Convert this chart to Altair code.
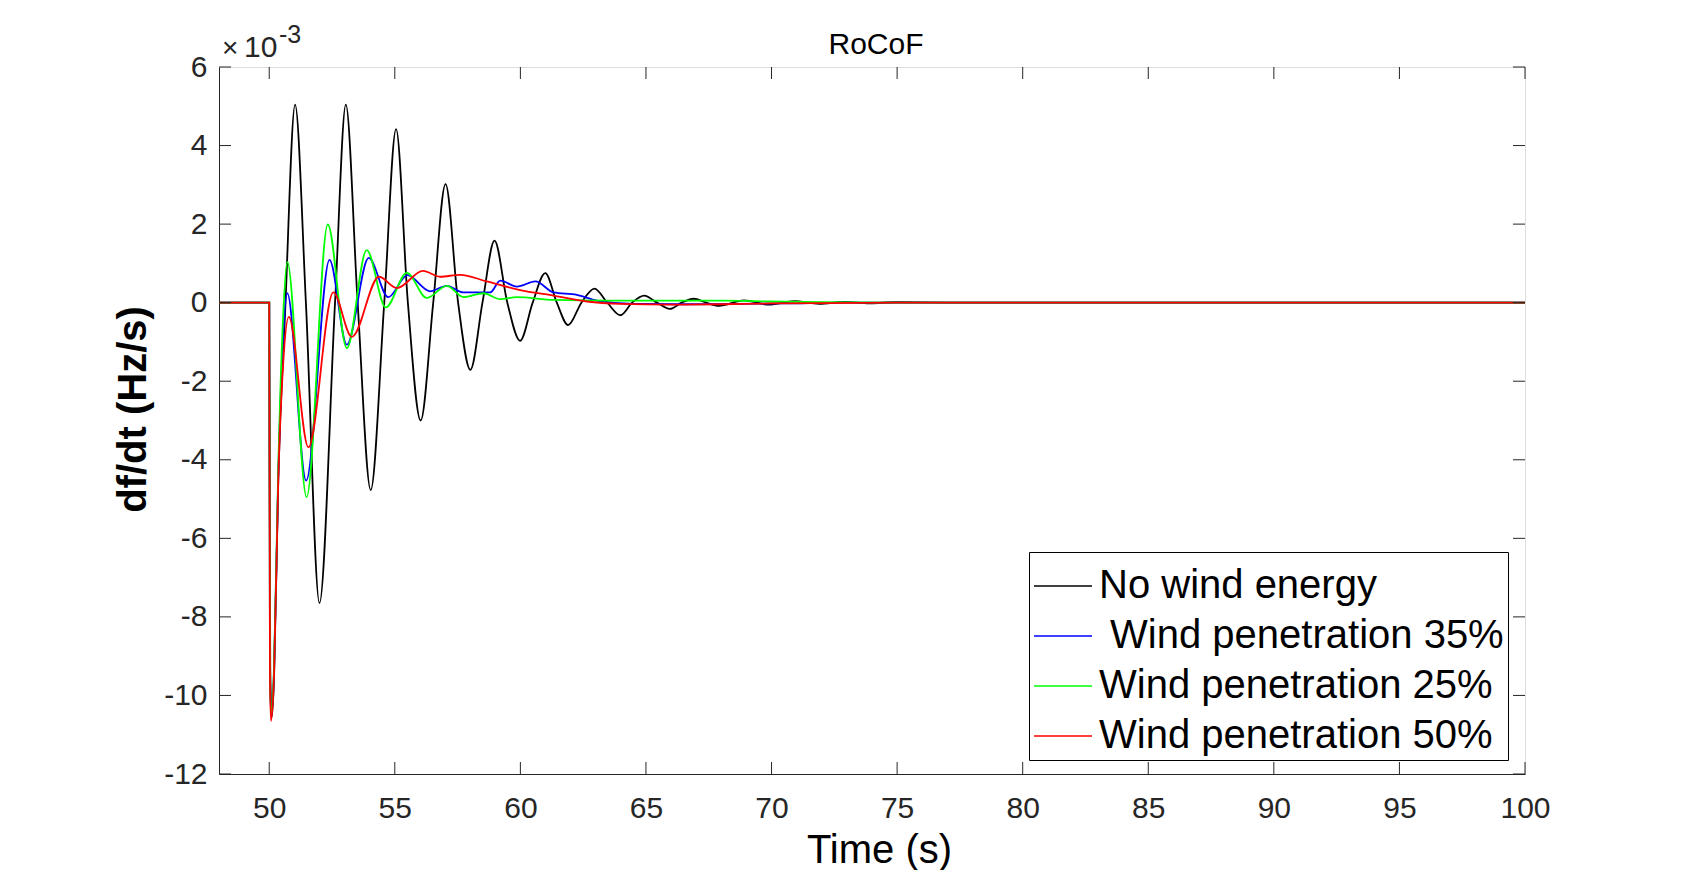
import altair as alt
import pandas as pd

FONT = "Liberation Sans"
AXIS_COLOR = "#262626"

SERIES = ["No wind energy", "\u200b\u00a0Wind penetration 35%", "Wind penetration 25%", "Wind penetration 50%"]
COLORS = ["#000000", "#0000ff", "#00ff00", "#ff0000"]

# No wind energy (black)
black_t = [48, 50, 50.04, 50.1, 50.19, 50.36, 50.63, 51.03, 51.46, 52.0, 52.62, 53.05, 53.52,
           54.04, 54.58, 55.05, 55.52, 56.03, 56.53, 57.02, 57.52, 58.01, 58.49, 58.97, 59.48,
           59.99, 60.49, 60.99, 61.45, 61.9, 62.43, 62.95, 63.46, 63.98, 64.45, 64.93, 65.44,
           65.95, 66.42, 66.9, 67.4, 67.9, 68.9, 69.9, 70.9, 71.9, 72.9, 73.9, 75.0, 77.0, 100]
black_v = [0, 0, -9.3, -10.55, -9.6, -4.5, -0.28, 5.04, 0, -7.65, 0, 5.04, 0,
           -4.77, 0, 4.42, 0, -3.0, 0, 3.02, 0, -1.71, 0, 1.58, 0,
           -0.97, 0, 0.75, 0, -0.57, 0, 0.36, 0, -0.32, 0, 0.18, 0,
           -0.16, 0, 0.1, 0, -0.08, 0.06, -0.05, 0.04, -0.03, 0.02, -0.015, 0.01, 0, 0]

# Wind penetration 35% (blue)
blue_t = [48, 50, 50.03, 50.08, 50.19, 50.36, 50.55, 50.72, 51.47, 52.4, 53.09, 53.96, 54.74,
          55.5, 56.4, 57.07, 57.73, 58.8, 59.2, 59.86, 60.6, 61.32, 62.25, 63.05, 64.5, 66.5,
          68.5, 70.5, 73, 100]
blue_v = [0, 0, -9.4, -10.5, -9.4, -4.4, -0.9, 0.24, -4.53, 1.09, -1.07, 1.14, 0.14,
          0.70, 0.29, 0.43, 0.26, 0.26, 0.56, 0.41, 0.54, 0.26, 0.2, 0.05, -0.03, -0.04,
          -0.03, -0.02, 0, 0]

# Wind penetration 25% (green)
green_t = [48, 50, 50.03, 50.08, 50.19, 50.36, 50.55, 50.72, 51.49, 52.33, 53.09, 53.88, 54.64,
           55.48, 56.27, 57.07, 57.73, 58.53, 59.2, 59.86, 61.32, 63.5, 66, 68, 70, 72, 75, 100]
green_v = [0, 0, -9.4, -10.5, -9.3, -4.2, -0.4, 1.04, -4.95, 1.99, -1.16, 1.34, -0.12,
           0.76, 0.12, 0.43, 0.14, 0.24, 0.09, 0.14, 0.07, 0.05, 0.05, 0.05, 0.03, 0.01, 0, 0]

# Wind penetration 50% (red)
red_t = [48, 50, 50.03, 50.07, 50.19, 50.36, 50.56, 50.78, 51.56, 52.55, 53.29, 54.37, 55.08,
         56.12, 56.8, 57.6, 58.66, 59.99, 61.32, 62.65, 63.98, 66, 68, 70, 72, 75, 100]
red_v = [0, 0, -9.6, -10.65, -9.5, -4.5, -1.5, -0.36, -3.68, 0.26, -0.87, 0.66, 0.37,
         0.81, 0.66, 0.71, 0.54, 0.32, 0.18, 0.03, -0.03, -0.05, -0.04, -0.02, -0.01, 0, 0]

X_TICKS = [50, 55, 60, 65, 70, 75, 80, 85, 90, 95, 100]
Y_TICKS = [-12, -10, -8, -6, -4, -2, 0, 2, 4, 6]
X_DOMAIN = [48, 100]
Y_DOMAIN = [-12, 6]

W, H = 1306, 707
TL = 12  # tick length

rows = []
for name, ts, vs in zip(SERIES, [black_t, blue_t, green_t, red_t], [black_v, blue_v, green_v, red_v]):
    for t, v in zip(ts, vs):
        rows.append({"t": t, "v": v, "series": name})
df = pd.DataFrame(rows)

xs = alt.Scale(domain=X_DOMAIN, nice=False, zero=False)
ys = alt.Scale(domain=Y_DOMAIN, nice=False, zero=False)

x_axis = alt.Axis(
    values=X_TICKS, ticks=False, grid=False, title="Time (s)", labelFlush=False,
    labelFontSize=30, labelPadding=19, labelColor=AXIS_COLOR, labelFont=FONT,
    titleFontSize=40, titleFontWeight="normal", titleColor="#000000", titleFont=FONT,
    titleX=660, titleY=56, titleBaseline="top", titleAlign="center", domainColor=AXIS_COLOR)
y_axis = alt.Axis(
    values=Y_TICKS, ticks=False, grid=False, title="df/dt (Hz/s)", labelFlush=False,
    labelExpr="'' + datum.value",
    labelFontSize=30, labelPadding=12, labelColor=AXIS_COLOR, labelFont=FONT,
    titleFontSize=40, titleFontWeight="bold", titleColor="#000000", titleFont=FONT,
    titleX=-66, titleY=342, titleBaseline="bottom", domainColor=AXIS_COLOR)

lines = alt.Chart(df).mark_line(strokeWidth=1.8, interpolate="monotone", clip=True).encode(
    x=alt.X("t:Q", scale=xs, axis=x_axis),
    y=alt.Y("v:Q", scale=ys, axis=y_axis),
    color=alt.Color("series:N", sort=SERIES,
                    scale=alt.Scale(domain=SERIES, range=COLORS),
                    legend=alt.Legend(
                        title=None, orient="none", legendX=810, legendY=485,
                        fillColor="white", strokeColor="#000000", padding=4,
                        symbolType="stroke", symbolSize=3364, symbolStrokeWidth=1.5,
                        labelFontSize=40, labelFont=FONT, labelColor="#000000",
                        labelLimit=800, labelOffset=6, rowPadding=0)),
)

xt = pd.DataFrame({"t": X_TICKS})
yt = pd.DataFrame({"v": Y_TICKS})
tick_bottom = alt.Chart(xt).mark_rule(color=AXIS_COLOR, strokeWidth=1).encode(
    x=alt.X("t:Q", scale=xs, axis=x_axis), y=alt.value(H), y2=alt.value(H - TL))
tick_top = alt.Chart(xt).mark_rule(color=AXIS_COLOR, strokeWidth=1).encode(
    x=alt.X("t:Q", scale=xs, axis=x_axis), y=alt.value(0), y2=alt.value(TL))
tick_left = alt.Chart(yt).mark_rule(color=AXIS_COLOR, strokeWidth=1).encode(
    y=alt.Y("v:Q", scale=ys, axis=y_axis), x=alt.value(0), x2=alt.value(TL))
tick_right = alt.Chart(yt).mark_rule(color=AXIS_COLOR, strokeWidth=1).encode(
    y=alt.Y("v:Q", scale=ys, axis=y_axis), x=alt.value(W), x2=alt.value(W - TL))

one = pd.DataFrame({"a": [0]})
times = alt.Chart(one).mark_text(text="×", font=FONT, fontSize=28, color=AXIS_COLOR,
                                 align="left", baseline="alphabetic").encode(
    x=alt.value(3), y=alt.value(-10))
ten = alt.Chart(one).mark_text(text="10", font=FONT, fontSize=30, color=AXIS_COLOR,
                               align="left", baseline="alphabetic").encode(
    x=alt.value(25), y=alt.value(-10))
expo = alt.Chart(one).mark_text(text="-3", font=FONT, fontSize=25, color=AXIS_COLOR,
                                align="left", baseline="alphabetic").encode(
    x=alt.value(60), y=alt.value(-24))
title = alt.Chart(one).mark_text(text="RoCoF", font=FONT, fontSize=30, color="#000000",
                                 align="center", baseline="alphabetic").encode(
    x=alt.value(W / 2 + 4), y=alt.value(-13))

chart = alt.layer(lines, tick_bottom, tick_top, tick_left, tick_right,
                  times, ten, expo, title).properties(
    width=W, height=H,
    autosize=alt.AutoSizeParams(type="none"),
    padding={"left": 211, "top": 59, "right": 140, "bottom": 96},
).configure_view(stroke=AXIS_COLOR, strokeWidth=1).configure(font=FONT, background="white")

chart.save("out.html", embed_options={"renderer": "svg", "actions": False})
